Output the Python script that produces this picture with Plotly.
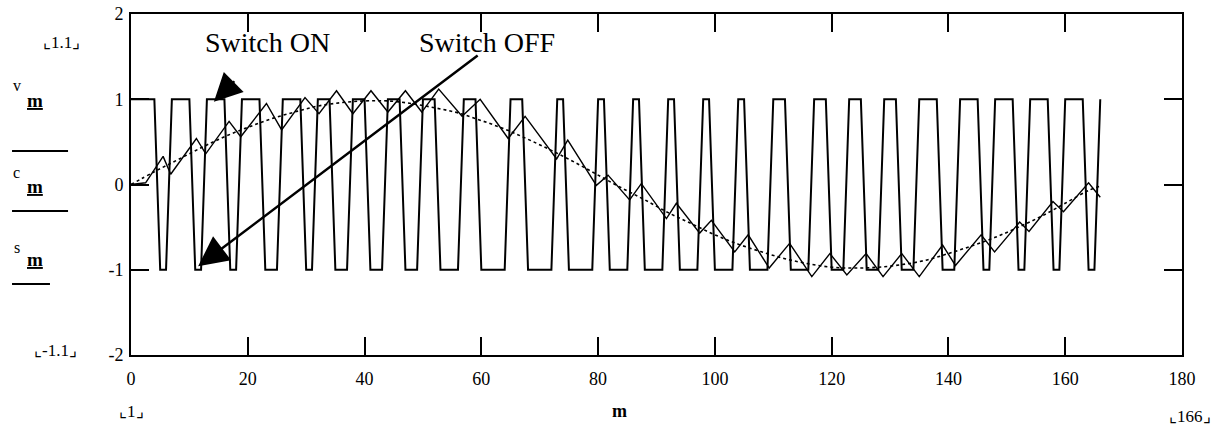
import plotly.graph_objects as go

# ---------------- data ----------------
# switch signal s_m, one value per sample m = 0..166
m_index = list(range(0, 167))
s_vals = [
    1, 1, 1, 1, 1, -1, -1, 1, 1, 1, 1, -1, -1, 1, 1, 1, 1, -1, -1,
    1, 1, 1, 1, -1, -1, -1, 1, 1, 1, 1, -1, -1, 1, 1, 1, -1, -1, -1,
    1, 1, 1, -1, -1, -1, 1, 1, 1, -1, -1, -1, 1, 1, 1, -1, -1, -1, -1,
    1, 1, 1, -1, -1, -1, -1, -1, 1, 1, 1, -1, -1, -1, -1, -1,
    1, 1, -1, -1, -1, -1, -1, 1, 1, -1, -1, -1, -1, 1, 1, -1, -1, -1, -1,
    1, 1, -1, -1, -1, -1, 1, 1, -1, -1, -1, -1, 1, 1, -1, -1, -1, -1,
    1, 1, 1, -1, -1, -1, -1, 1, 1, 1, -1, -1, -1, 1, 1, 1, -1, -1, -1,
    1, 1, 1, -1, -1, -1, 1, 1, 1, 1, -1, -1, -1, 1, 1, 1, 1, -1, -1,
    1, 1, 1, 1, -1, -1, 1, 1, 1, 1, -1, -1, 1, 1, 1, 1, -1, -1, 1,
]

# reference signal v_m (read at coarser spacing)
v_x = [0, 4, 8, 12, 16, 20, 24, 28, 32, 36, 40, 44, 48, 52, 56, 60, 64, 68,
       72, 76, 80, 84, 88, 92, 96, 100, 104, 108, 112, 116, 120, 124, 128,
       132, 136, 140, 144, 148, 152, 156, 160, 164, 166]
v_y = [0.0, 0.15, 0.29, 0.43, 0.56, 0.67, 0.77, 0.85, 0.92, 0.96, 0.98, 0.98,
       0.95, 0.90, 0.84, 0.75, 0.65, 0.53, 0.40, 0.26, 0.11, -0.04, -0.18,
       -0.33, -0.46, -0.59, -0.70, -0.79, -0.87, -0.93, -0.97, -0.98, -0.97,
       -0.94, -0.89, -0.81, -0.72, -0.62, -0.50, -0.37, -0.22, -0.07, -0.02]

# controlled signal c_m (turning points of the zig-zag)
c_x = [0, 2.5, 5.5, 6.8, 11.2, 12.8, 16.8, 18.8, 23.2, 25.8,
       29.8, 32.2, 35.2, 38.0, 41.1, 44.0, 47.0, 49.8, 52.7, 56.7,
       59.8, 64.6, 67.5, 72.9, 74.8, 79.7, 81.7, 85.4, 87.4, 91.7,
       93.4, 97.4, 99.4, 103.4, 105.7, 109.3, 112.8, 116.6, 119.7, 122.6,
       125.9, 128.8, 132.0, 135.0, 139.0, 141.2, 145.6, 147.9, 152.2, 153.8,
       157.9, 159.7, 164.0, 166.0]
c_y = [0.0, 0.02, 0.33, 0.12, 0.54, 0.36, 0.74, 0.56, 0.95, 0.64,
       1.02, 0.83, 1.10, 0.83, 1.10, 0.85, 1.10, 0.85, 1.12, 0.80,
       1.00, 0.54, 0.80, 0.30, 0.52, -0.01, 0.11, -0.18, 0.01, -0.40,
       -0.22, -0.57, -0.42, -0.79, -0.59, -0.98, -0.69, -1.08, -0.81, -1.06,
       -0.81, -1.08, -0.81, -1.08, -0.71, -0.95, -0.59, -0.79, -0.44, -0.55,
       -0.20, -0.32, 0.02, -0.15]

x_ticks = [0, 20, 40, 60, 80, 100, 120, 140, 160, 180]
y_ticks = [2, 1, 0, -1, -2]
y_tick_text = ["2", "1", "0", "-1", "-2"]

# ---------------- figure ----------------
SERIF = "Liberation Serif, Times New Roman, serif"
fig = go.Figure()

fig.add_trace(go.Scatter(x=m_index, y=s_vals, mode="lines",
                         line=dict(color="black", width=2), hoverinfo="skip"))
fig.add_trace(go.Scatter(x=v_x, y=v_y, mode="lines", line_shape="spline",
                         line=dict(color="black", width=1.6, dash="dot"),
                         hoverinfo="skip"))
fig.add_trace(go.Scatter(x=c_x, y=c_y, mode="lines",
                         line=dict(color="black", width=1.4), hoverinfo="skip"))

axis_common = dict(showgrid=False, zeroline=False, showline=True,
                   linecolor="black", linewidth=2, mirror="ticks",
                   ticks="inside", ticklen=18, tickwidth=1.5, tickcolor="black",
                   automargin=False,
                   tickfont=dict(family=SERIF, size=18, color="black"))

fig.update_xaxes(range=[0, 180], tickvals=x_ticks, ticklabelstandoff=6,
                 **axis_common)
fig.update_yaxes(range=[-2, 2], tickvals=y_ticks, ticktext=y_tick_text,
                 ticklabelstandoff=2, **axis_common)

ann = []
# switch labels and arrows
ann.append(dict(x=23.3, y=1.66, xref="x", yref="y", text="Switch ON",
                showarrow=False, font=dict(family=SERIF, size=28, color="black")))
ann.append(dict(x=61.0, y=1.66, xref="x", yref="y", text="Switch OFF",
                showarrow=False, font=dict(family=SERIF, size=28, color="black")))
ann.append(dict(x=14.2, y=0.97, xref="x", yref="y", ax=22, ay=-22, text="",
                showarrow=True, arrowhead=2, arrowsize=2.8, arrowwidth=2,
                arrowcolor="black"))
ann.append(dict(x=11.5, y=-0.96, xref="x", yref="y", ax=281, ay=-212, text="",
                showarrow=True, arrowhead=2, arrowsize=2.4, arrowwidth=2.5,
                arrowcolor="black"))


def paper_text(x, y, text, font):
    return dict(x=x, y=y, xref="paper", yref="paper", text=text,
                xanchor="center", yanchor="middle", showarrow=False, font=font)


small = dict(family=SERIF, size=17, color="black")
ann.append(paper_text(-0.0657, 0.915, "⌞1.1⌟", small))
ann.append(paper_text(-0.072, 0.012, "⌞-1.1⌟", small))
ann.append(paper_text(0.0, -0.165, "⌞1⌟", small))
ann.append(paper_text(1.0076, -0.18, "⌞166⌟", small))
ann.append(paper_text(0.465, -0.165, "<b>m</b>",
                      dict(family=SERIF, size=18, color="black")))

# y-axis trace labels
labels = [("v", 0.790, 0.745), ("c", 0.535, 0.495), ("s", 0.315, 0.280)]
for letter, yl, ym in labels:
    ann.append(paper_text(-0.1085, yl, letter,
                          dict(family=SERIF, size=16, color="black")))
    ann.append(paper_text(-0.0915, ym, "<b><u>m</u></b>",
                          dict(family=SERIF, size=19, color="black")))

shapes = []
for yy, x1 in [(0.598, -0.0599), (0.422, -0.0599), (0.208, -0.0771)]:
    shapes.append(dict(type="line", xref="paper", yref="paper",
                       x0=-0.1132, x1=x1, y0=yy, y1=yy,
                       line=dict(color="black", width=2)))

fig.update_layout(
    width=1221, height=430,
    margin=dict(l=131, r=39, t=14, b=75),
    paper_bgcolor="white", plot_bgcolor="white",
    showlegend=False,
    annotations=ann, shapes=shapes,
)

fig.write_html("out.html", config={"displayModeBar": False},
               post_script="document.body.style.margin='0';")
